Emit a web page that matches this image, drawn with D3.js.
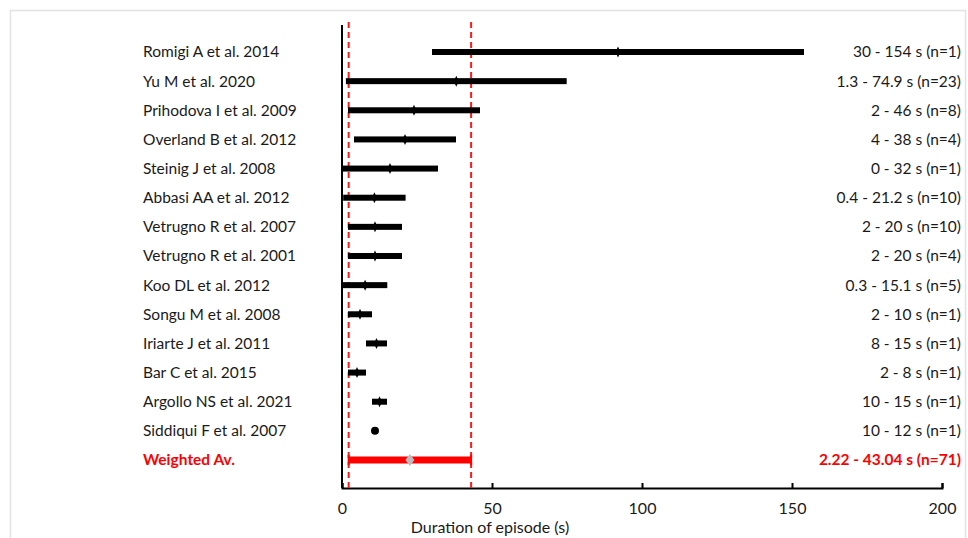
<!DOCTYPE html>
<html>
<head>
<meta charset="utf-8">
<script src="https://cdn.jsdelivr.net/npm/d3@7"></script>
<style>
    body { margin: 0; background: #ffffff; }
    svg { display: block; }
</style>
</head>
<body>
<div id="chart"></div>
<script>
const studies = ['Romigi A et al. 2014', 'Yu M et al. 2020', 'Prihodova I et al. 2009', 'Overland B et al. 2012',
    'Steinig J et al. 2008', 'Abbasi AA et al. 2012', 'Vetrugno R et al. 2007', 'Vetrugno R et al. 2001',
    'Koo DL et al. 2012', 'Songu M et al. 2008', 'Iriarte J et al. 2011', 'Bar C et al. 2015',
    'Argollo NS et al. 2021', 'Siddiqui F et al. 2007'];
const lows = [30, 1.3, 2, 4, 0, 0.4, 2, 2, 0.3, 2, 8, 2, 10, 10];
const highs = [154, 74.9, 46, 38, 32, 21.2, 20, 20, 15.1, 10, 15, 8, 15, 12];
const counts = [1, 23, 8, 4, 1, 10, 10, 4, 5, 1, 1, 1, 1, 1];
const weightedLabel = 'Weighted Av.';
const weightedLow = 2.22;
const weightedHigh = 43.04;
const weightedN = 71;
const xTicks = [0, 50, 100, 150, 200];

function main() {
    const svgWidth = 968;
    const svgHeight = 538;
    const fontFamily = 'Lato, "Open Sans", sans-serif';

    const svg = d3.select('#chart').append('svg')
        .attr('width', svgWidth)
        .attr('height', svgHeight);

    // light frame round the picture
    svg.append('rect')
        .attr('x', 10.5)
        .attr('y', 10.5)
        .attr('width', 955)
        .attr('height', 540)
        .attr('fill', 'none')
        .attr('stroke', '#e2e2e2')
        .attr('stroke-width', 1.5);

    const rows = studies.map((s, i) => ({
        study: s, low: lows[i], high: highs[i], n: counts[i], mid: (lows[i] + highs[i]) / 2
    }));
    const weighted = {
        study: weightedLabel, low: weightedLow, high: weightedHigh, n: weightedN,
        mid: (weightedLow + weightedHigh) / 2
    };

    const xScale = d3.scaleLinear().domain([0, 200]).range([342, 942]);
    const yScale = d3.scalePoint()
        .domain(studies.concat([weightedLabel]))
        .range([52, 460]);
    const axisY = 488;

    // x axis, ticks pointing up
    const xAxis = svg.append('g')
        .attr('transform', `translate(0,${axisY})`)
        .call(d3.axisBottom(xScale).tickValues(xTicks).tickSize(-5).tickPadding(15));
    xAxis.select('.domain').attr('stroke', '#000').attr('stroke-width', 2);
    xAxis.selectAll('.tick line').attr('stroke', '#000').attr('stroke-width', 2);
    xAxis.selectAll('.tick text')
        .style('font-family', fontFamily)
        .style('font-size', '16px')
        .attr('fill', '#1a1a1a');

    svg.append('text')
        .attr('x', 490)
        .attr('y', 533)
        .attr('text-anchor', 'middle')
        .style('font-family', fontFamily)
        .style('font-size', '16px')
        .attr('fill', '#1a1a1a')
        .text('Duration of episode (s)');

    // vertical axis at 0
    svg.append('line')
        .attr('x1', xScale(0)).attr('x2', xScale(0))
        .attr('y1', 25).attr('y2', axisY)
        .attr('stroke', '#000')
        .attr('stroke-width', 2);

    // dashed lines at weighted range
    svg.selectAll('.range-line')
        .data([weightedLow, weightedHigh])
        .enter()
        .append('line')
        .attr('class', 'range-line')
        .attr('x1', d => xScale(d)).attr('x2', d => xScale(d))
        .attr('y1', 22).attr('y2', axisY)
        .attr('stroke', '#ff1a1a')
        .attr('stroke-width', 2)
        .attr('stroke-dasharray', '6,4');

    // study bars
    svg.selectAll('.study-bar')
        .data(rows.filter(d => d.high - d.low > 2))
        .enter()
        .append('rect')
        .attr('class', 'study-bar')
        .attr('x', d => xScale(d.low))
        .attr('y', d => yScale(d.study) - 3)
        .attr('width', d => xScale(d.high) - xScale(d.low))
        .attr('height', 6)
        .attr('fill', '#000');

    svg.selectAll('.study-mid')
        .data(rows.filter(d => d.high - d.low > 2))
        .enter()
        .append('path')
        .attr('class', 'study-mid')
        .attr('d', 'M0,-5.5L2.5,0L0,5.5L-2.5,0Z')
        .attr('transform', d => `translate(${xScale(d.mid)},${yScale(d.study)})`)
        .attr('fill', '#000');

    svg.selectAll('.study-dot')
        .data(rows.filter(d => d.high - d.low <= 2))
        .enter()
        .append('circle')
        .attr('class', 'study-dot')
        .attr('cx', d => xScale(d.mid))
        .attr('cy', d => yScale(d.study))
        .attr('r', 4)
        .attr('fill', '#000');

    // weighted average bar
    const wy = yScale(weightedLabel);
    svg.append('rect')
        .attr('x', xScale(weighted.low))
        .attr('y', wy - 3.5)
        .attr('width', xScale(weighted.high) - xScale(weighted.low))
        .attr('height', 7)
        .attr('fill', '#ff0000');
    svg.selectAll('.weighted-cap')
        .data([weighted.low, weighted.high])
        .enter()
        .append('line')
        .attr('class', 'weighted-cap')
        .attr('x1', d => xScale(d)).attr('x2', d => xScale(d))
        .attr('y1', wy - 5).attr('y2', wy + 5)
        .attr('stroke', '#ff0000')
        .attr('stroke-width', 2);
    svg.append('path')
        .attr('d', 'M0,-6L4.5,0L0,6L-4.5,0Z')
        .attr('transform', `translate(${xScale(weighted.mid)},${wy})`)
        .attr('fill', '#bdbdbd');

    // left labels
    svg.selectAll('.study-label')
        .data(rows.concat([weighted]))
        .enter()
        .append('text')
        .attr('class', 'study-label')
        .attr('x', 143)
        .attr('y', d => yScale(d.study))
        .attr('dy', '0.35em')
        .style('font-family', fontFamily)
        .style('font-size', '15.5px')
        .style('font-weight', d => d === weighted ? 'bold' : 'normal')
        .attr('fill', d => d === weighted ? '#ff0000' : '#1a1a1a')
        .text(d => d.study);

    // right labels
    svg.selectAll('.range-label')
        .data(rows.concat([weighted]))
        .enter()
        .append('text')
        .attr('class', 'range-label')
        .attr('x', 961)
        .attr('y', d => yScale(d.study))
        .attr('dy', '0.35em')
        .attr('text-anchor', 'end')
        .style('font-family', fontFamily)
        .style('font-size', '15.5px')
        .style('font-weight', d => d === weighted ? 'bold' : 'normal')
        .attr('fill', d => d === weighted ? '#ff0000' : '#1a1a1a')
        .text(d => `${d.low} - ${d.high} s (n=${d.n})`);
}

main();
</script>
</body>
</html>
